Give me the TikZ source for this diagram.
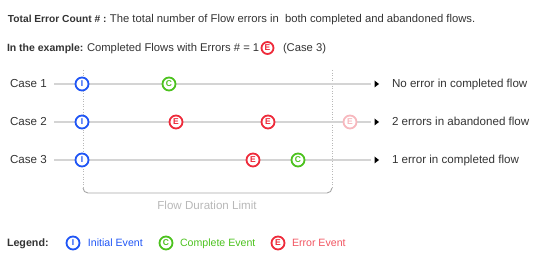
\documentclass[tikz,border=0pt]{standalone}
\usepackage{fontspec}
\setmainfont{Liberation Sans}
\definecolor{txt}{HTML}{333333}
\definecolor{evblue}{HTML}{1F55F5}
\definecolor{evgreen}{HTML}{4CC21E}
\definecolor{evred}{HTML}{EE2A3A}
\definecolor{evfaded}{HTML}{F7B8BE}
\definecolor{flowline}{HTML}{D4D4D4}
\definecolor{limitgray}{HTML}{B8B8B8}
\begin{document}
\begin{tikzpicture}[x=1pt,y=-1pt,
  every node/.style={inner sep=0pt,outer sep=0pt},
  txtnode/.style={anchor=base west,text=txt,font=\fontsize{11.6}{13}\selectfont},
  hdnode/.style={txtnode,font=\fontsize{11.25}{13}\selectfont},
  lgnode/.style={txtnode,font=\fontsize{10.6}{13}\selectfont},
  ev/.style={circle,draw=#1,line width=1.8pt,fill=white,minimum size=13pt,text=#1,
     font=\fontsize{8.5}{8}\selectfont\bfseries},
  flow/.style={draw=flowline,line width=1.4pt},
  limit/.style={draw=limitgray,line width=0.6pt,dotted},
  limitbase/.style={draw=limitgray!90!black,line width=0.9pt},
  tipmark/.style={fill=black}]
\useasboundingbox (0,0) rectangle (542,264);
% header
\node[hdnode,font=\fontsize{10.2}{13}\selectfont\bfseries] (h1b) at (8,23) {Total Error Count \# :};
\node[hdnode] (h1) at (110,23) {The total number of Flow errors in\ \ both completed and abandoned flows.};
\node[hdnode,font=\fontsize{10.5}{13}\selectfont\bfseries] (h2b) at (7,52) {In the example:};
\node[hdnode] (h2) at (87,52) {Completed Flows with Errors \# = 1};
\node[ev=evred,minimum size=12pt] (hE) at (267.5,48) {E};
\node[hdnode] (h3) at (283,52) {(Case 3)};
% duration limit
\coordinate (la) at (83,70);
\coordinate (lb) at (332,70);
\draw[limit] (la) -- (83,188);
\draw[limit] (lb) -- (332,188);
\draw[limitbase] (83,188) to[out=-90,in=180] (88,193) -- (327,193) to[out=0,in=-90] (332,188);
\node[anchor=center,text=limitgray,font=\fontsize{11.6}{13}\selectfont] (lim) at (207,205) {Flow Duration Limit};
% rows
\foreach \r/\y in {1/84,2/122,3/160}{
  \node[txtnode] (c\r) at (10,\y+4) {Case \r};
  \coordinate (s\r) at (54,\y);
  \coordinate (e\r) at (371,\y);
  \draw[flow] (s\r) -- (e\r);
  \fill[tipmark] (374.5,\y-3.5) -- (379,\y) -- (374.5,\y+3.5) -- cycle;
}
\node[txtnode] (r1) at (392,88) {No error in completed flow};
\node[txtnode] (r2) at (392,126) {2 errors in abandoned flow};
\node[txtnode] (r3) at (392,164) {1 error in completed flow};
% events
\node[ev=evblue] (i1) at (82,84) {I};
\node[ev=evgreen] (c1e) at (169,84) {C};
\node[ev=evblue] (i2) at (82,122) {I};
\node[ev=evred] (e2a) at (176,122) {E};
\node[ev=evred] (e2b) at (268,122) {E};
\node[ev=evfaded] (e2c) at (350,122) {E};
\node[ev=evblue] (i3) at (82,160) {I};
\node[ev=evred] (e3a) at (253,160) {E};
\node[ev=evgreen] (c3e) at (298,160) {C};
% legend
\node[lgnode,font=\fontsize{10.7}{13}\selectfont\bfseries] (lg) at (7,247) {Legend:};
\node[ev=evblue] (lgI) at (73,243) {I};
\node[lgnode,text=evblue] (lgIt) at (88,247) {Initial Event};
\node[ev=evgreen] (lgC) at (166,243) {C};
\node[lgnode,text=evgreen] (lgCt) at (180,247) {Complete Event};
\node[ev=evred] (lgE) at (278,243) {E};
\node[lgnode,text=evred!80] (lgEt) at (292,247) {Error Event};
\end{tikzpicture}
\end{document}
